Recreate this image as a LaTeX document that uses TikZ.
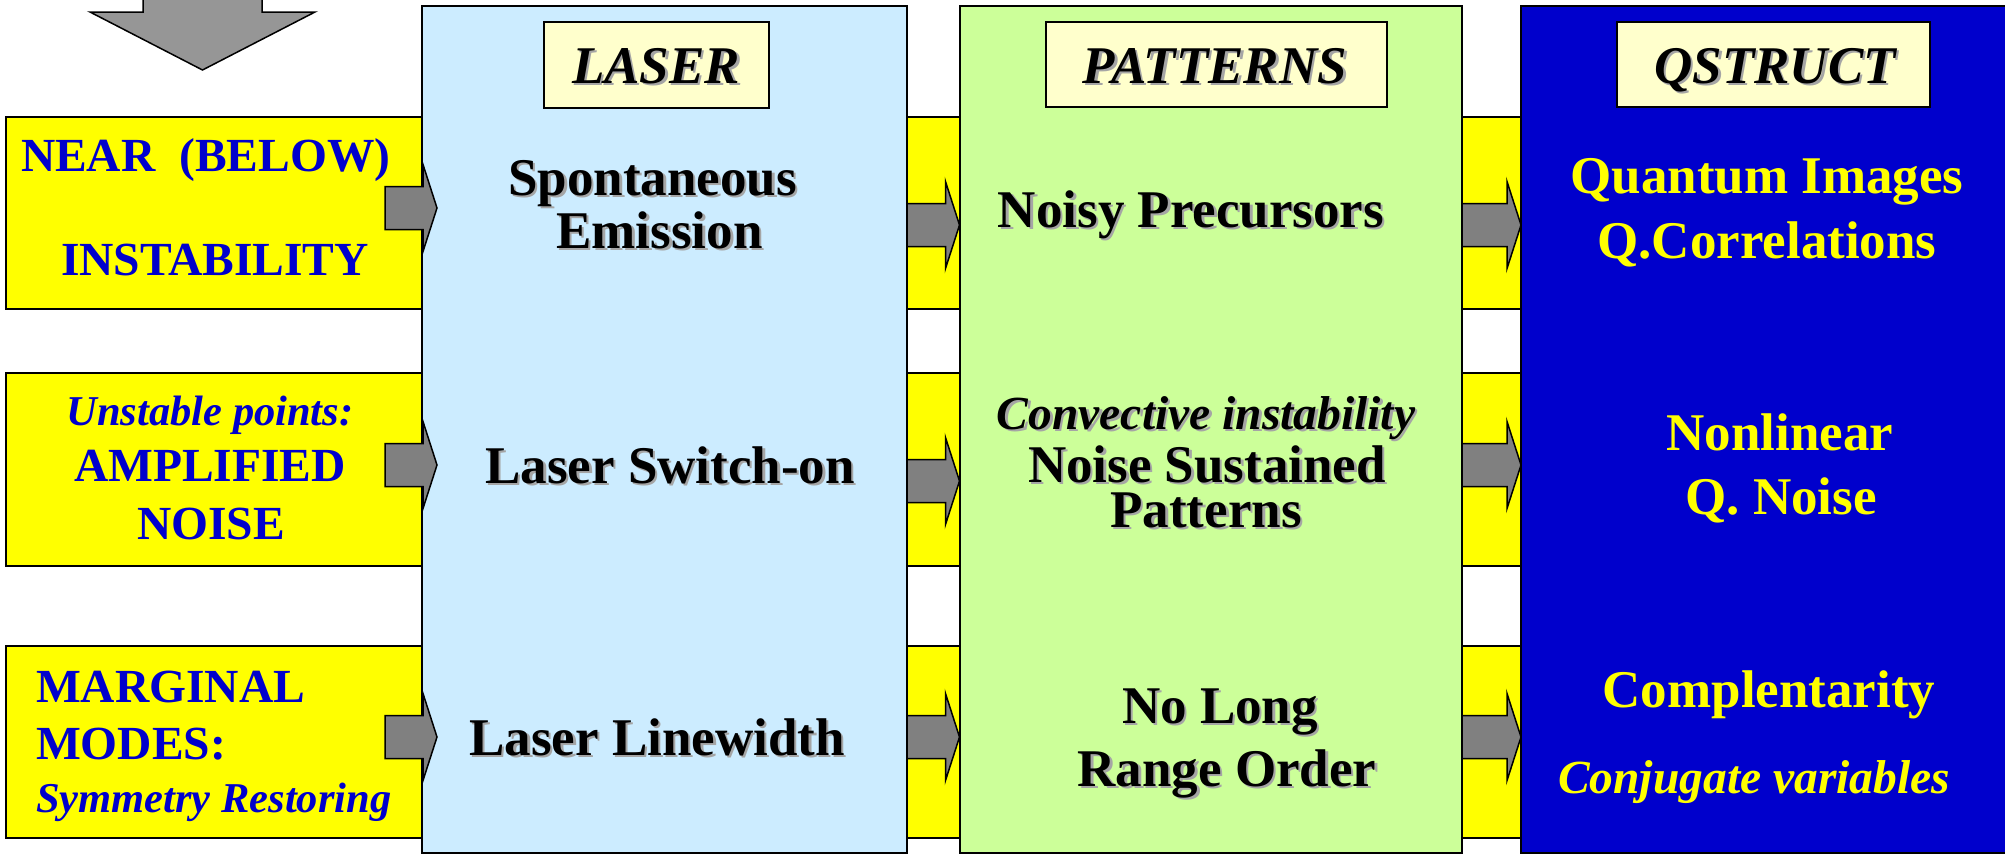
\documentclass[tikz,border=0pt]{standalone}
\usepackage{fontspec}
\setmainfont{Liberation Serif}
\usetikzlibrary{calc}

\definecolor{bandyellow}{RGB}{255,255,0}
\definecolor{deepblue}{RGB}{0,0,204}
\definecolor{laserblue}{RGB}{204,236,255}
\definecolor{patgreen}{RGB}{204,255,153}
\definecolor{labelcream}{RGB}{255,255,204}
\definecolor{arrowgray}{RGB}{128,128,128}
\definecolor{topgray}{RGB}{150,150,150}
\definecolor{shadowgray}{RGB}{165,165,165}

% text with a soft grey drop shadow
\newcommand\shad[1]{\leavevmode\rlap{\kern2.5pt\raisebox{-2.5pt}{\textcolor{shadowgray}{#1}}}#1}
\newcommand\bigbf{\fontsize{53}{60}\selectfont\bfseries}
\newcommand\bigbi{\fontsize{53}{60}\selectfont\bfseries\itshape}
\newcommand\midbf{\fontsize{47.5}{54}\selectfont\bfseries}
\newcommand\midbi{\fontsize{47.5}{54}\selectfont\bfseries\itshape}
\newcommand\smallbi{\fontsize{42.5}{48}\selectfont\bfseries\itshape}

% block arrow: from-anchor, to-anchor, row y (px), shaft offset, tip offset
\newcommand\blockarrow[5]{%
  \path[blockarrow] let \p1=(#1), \p2=(#2) in
    ({\x1+(#4pt)},{-#3pt+21.5pt}) -- ({\x2+(#5pt)-14pt},{-#3pt+21.5pt}) --
    ({\x2+(#5pt)-14pt},{-#3pt+43.5pt}) -- ({\x2+(#5pt)},{-#3pt}) --
    ({\x2+(#5pt)-14pt},{-#3pt-43.5pt}) -- ({\x2+(#5pt)-14pt},{-#3pt-21.5pt}) --
    ({\x1+(#4pt)},{-#3pt-21.5pt}) -- cycle;}

\tikzset{
  band/.style={draw=black, line width=2pt, fill=bandyellow, inner sep=0pt, outer sep=0pt, minimum height=192},
  column/.style={draw=black, line width=2pt, inner sep=0pt, outer sep=0pt, minimum height=847},
  tag/.style={draw=black, line width=2pt, fill=labelcream, inner sep=0pt, outer sep=0pt, minimum height=86},
  txt/.style={inner sep=0pt, outer sep=0pt, anchor=base},
  blockarrow/.style={draw=black, line width=1.5pt, fill=arrowgray, line join=miter},
}

\begin{document}
\begin{tikzpicture}[x=1pt, y=-1pt]
\useasboundingbox (0,0) rectangle (2005,854);
\clip (0,0) rectangle (2005,854);

% incoming arrow from above
\draw[fill=topgray, line width=1.5pt, line join=miter]
  (143,-30) -- (143,12) -- (90,12) -- (202.5,70) -- (315,12) -- (262,12) -- (262,-30) -- cycle;

% yellow bands: left boxes
\node[band, minimum width=416] (y1) at (214,213) {};
\node[band, minimum width=416, minimum height=193] (y2) at (214,469.5) {};
\node[band, minimum width=416] (y3) at (214,742) {};
% yellow bands between columns
\node[band, minimum width=52.5] (m1) at (933.25,213) {};
\node[band, minimum width=52.5, minimum height=193] (m2) at (933.25,469.5) {};
\node[band, minimum width=52.5] (m3) at (933.25,742) {};
\node[band, minimum width=59] (r1) at (1491.5,213) {};
\node[band, minimum width=59, minimum height=193] (r2) at (1491.5,469.5) {};
\node[band, minimum width=59] (r3) at (1491.5,742) {};

% the three columns
\node[column, fill=laserblue, minimum width=485] (laser) at (664.5,429.5) {};
\node[column, fill=patgreen, minimum width=502.5] (patterns) at (1210.75,429.5) {};
\node[column, fill=deepblue, minimum width=489] (qstruct) at (1765.5,429.5) {};

% arrows between stages
\blockarrow{y1.east}{laser.west}{208}{-37}{15}
\blockarrow{y2.east}{laser.west}{465}{-37}{15}
\blockarrow{y3.east}{laser.west}{737}{-37}{15}
\blockarrow{laser.east}{patterns.west}{225}{0}{0}
\blockarrow{laser.east}{patterns.west}{481}{0}{0}
\blockarrow{laser.east}{patterns.west}{737}{0}{0}
\blockarrow{patterns.east}{qstruct.west}{225}{0}{0}
\blockarrow{patterns.east}{qstruct.west}{465}{0}{0}
\blockarrow{patterns.east}{qstruct.west}{737}{0}{0}

% column titles
\node[tag, minimum width=225] (laser-tag) at (656.5,65) {};
\node[tag, minimum width=341, minimum height=85] (pat-tag) at (1216.5,64.5) {};
\node[tag, minimum width=313, minimum height=85] (qs-tag) at (1773.5,64.5) {};
\node[txt, font=\bigbi] (laser-title) at (656,83) {\shad{LASER}};
\node[txt, font=\bigbi] (pat-title) at (1215,83) {\shad{PATTERNS}};
\node[txt, font=\bigbi] (qs-title) at (1775,83) {\shad{QSTRUCT}};

% left boxes
\node[txt, anchor=base west, text=deepblue, font=\midbf] (near) at (21,171) {NEAR\ \ (BELOW)};
\node[txt, anchor=base west, text=deepblue, font=\midbf] (instab) at (61,275) {INSTABILITY};
\node[txt, text=deepblue, font=\smallbi] (unstable) at (210,425) {Unstable points:};
\node[txt, text=deepblue, font=\midbf] (amplified) at (210,481) {AMPLIFIED};
\node[txt, text=deepblue, font=\midbf] (noise) at (211,539) {NOISE};
\node[txt, anchor=base west, text=deepblue, font=\midbf] (marginal) at (36,702) {MARGINAL};
\node[txt, anchor=base west, text=deepblue, font=\midbf] (modes) at (36,759) {MODES:};
\node[txt, anchor=base west, text=deepblue, font=\smallbi] (symm) at (36,812) {Symmetry Restoring};

% laser column
\node[txt, font=\bigbf] (spont) at (652.5,195) {\shad{Spontaneous}};
\node[txt, font=\bigbf] (emission) at (659.5,248) {\shad{Emission}};
\node[txt, font=\bigbf] (switchon) at (670,483) {\shad{Laser Switch-on}};
\node[txt, font=\bigbf] (linewidth) at (657,755) {\shad{Laser Linewidth}};

% patterns column
\node[txt, font=\bigbf] (precursors) at (1191,227) {\shad{Noisy Precursors}};
\node[txt, font=\midbi] (convective) at (1206,429) {\shad{Convective instability}};
\node[txt, font=\bigbf] (sustained) at (1207,482) {\shad{Noise Sustained}};
\node[txt, font=\bigbf] (patt) at (1206,527) {\shad{Patterns}};
\node[txt, font=\bigbf] (nolong) at (1220,723) {\shad{No Long}};
\node[txt, font=\bigbf] (range) at (1227,786) {\shad{Range Order}};

% qstruct column
\node[txt, text=bandyellow, font=\bigbf] (qimages) at (1767,193) {Quantum Images};
\node[txt, text=bandyellow, font=\bigbf] (qcorr) at (1767,258) {Q.Correlations};
\node[txt, text=bandyellow, font=\bigbf] (nonlin) at (1780,450) {Nonlinear};
\node[txt, text=bandyellow, font=\bigbf] (qnoise) at (1781,514) {Q. Noise};
\node[txt, text=bandyellow, font=\bigbf] (compl) at (1769,707) {Complentarity};
\node[txt, text=bandyellow, font=\midbi] (conj) at (1754,793) {Conjugate variables};
\end{tikzpicture}
\end{document}
